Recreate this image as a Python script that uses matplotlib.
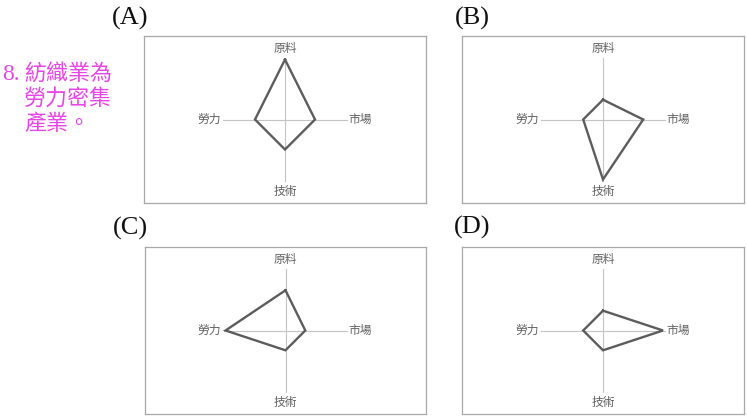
import numpy as np
import matplotlib
matplotlib.use("Agg")
import matplotlib.pyplot as plt

plt.rcParams['font.family'] = ['Noto Sans CJK TC', 'DejaVu Sans']

# ---- data ----
categories = ['原料', '市場', '技術', '勞力']   # top, right, bottom, left
angles_deg = [90, 0, 270, 180]
panel_names = ['(A)', '(B)', '(C)', '(D)']
values_A = [1.0, 0.5, 0.5, 0.5]
values_B = [0.33, 0.67, 1.0, 0.33]
values_C = [0.67, 0.33, 0.33, 1.0]
values_D = [0.33, 1.0, 0.33, 0.33]
note_number = '8.'
note_lines = ['紡織業為', '勞力密集', '產業。']

W, H = 747, 416
fig = plt.figure(figsize=(W / 100, H / 100), dpi=100)

# panel boxes in pixels: left, top, right, bottom
boxes = [(144, 36, 426, 203), (462, 36, 744, 203),
         (145, 247, 426, 414), (462, 247, 744, 414)]
label_pos = [(130, 18), (472, 18), (130, 228), (472, 227)]
all_values = [values_A, values_B, values_C, values_D]
R = 60.0  # pixels per unit radius

ang = np.deg2rad(angles_deg)
for (x0, y0, x1, y1), vals, name, (lx, ly) in zip(boxes, all_values, panel_names, label_pos):
    ax = fig.add_axes([x0 / W, (H - y1) / H, (x1 - x0) / W, (y1 - y0) / H])
    hw = (x1 - x0) / 2 / R
    hh = (y1 - y0) / 2 / R
    ax.set_xlim(-hw, hw)
    ax.set_ylim(-hh, hh)
    ax.set_xticks([])
    ax.set_yticks([])
    for s in ax.spines.values():
        s.set_color('#a8a8a8')
        s.set_linewidth(0.9)
    # axis lines
    ax.plot([-1.03, 1.03], [0, 0], color='#c4c4c4', lw=0.8, zorder=1)
    ax.plot([0, 0], [-1.03, 1.03], color='#c4c4c4', lw=0.8, zorder=1)
    # polygon
    v = np.array(vals)
    xs = v * np.cos(ang)
    ys = v * np.sin(ang)
    ax.plot(np.append(xs, xs[0]), np.append(ys, ys[0]), color='#5c5c5c', lw=1.7,
            solid_joinstyle='miter', zorder=2)
    # category labels
    lab_kw = dict(fontsize=8.5, color='#606060')
    ax.text(0, 1.19, categories[0], ha='center', va='center', **lab_kw)
    ax.text(1.05, 0, categories[1], ha='left', va='center', **lab_kw)
    ax.text(0, -1.2, categories[2], ha='center', va='center', **lab_kw)
    ax.text(-1.07, 0, categories[3], ha='right', va='center', **lab_kw)
    # panel label
    fig.text(lx / W, 1 - ly / H, name, ha='center', va='center', fontsize=19,
             family=['Liberation Serif', 'DejaVu Serif'], color='#111111')

# magenta note
magenta = '#e845e8'
fig.text(2 / W, 1 - 75 / H, note_number, ha='left', va='center', fontsize=17,
         family=['Liberation Serif', 'DejaVu Serif'], color=magenta)
note_x = [24, 24, 24]
note_y = [74, 99, 124]
for t, x, y in zip(note_lines, note_x, note_y):
    fig.text(x / W, 1 - y / H, t, ha='left', va='center', fontsize=15.8,
             color=magenta)

fig.savefig('out.png', dpi=100)
